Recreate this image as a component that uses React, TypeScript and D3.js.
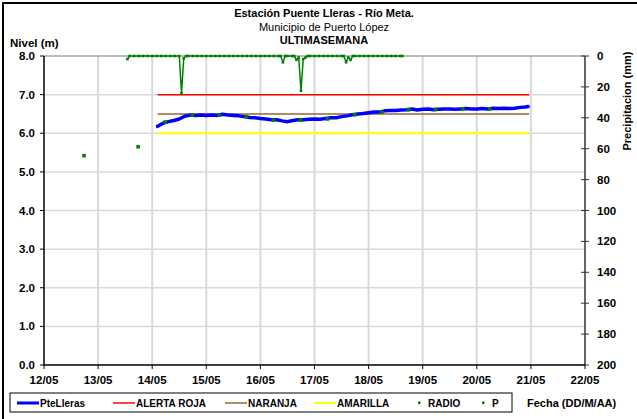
import React from "react";
import * as d3 from "d3";

// Days since 12/05 00:00
const X_TICK_LABELS = ["12/05", "13/05", "14/05", "15/05", "16/05", "17/05", "18/05", "19/05", "20/05", "21/05", "22/05"];
const LEVEL_TICKS = [0, 1, 2, 3, 4, 5, 6, 7, 8];
const PRECIP_TICKS = [0, 20, 40, 60, 80, 100, 120, 140, 160, 180, 200];

const LEVEL_DAYS = [2.1, 2.2, 2.3, 2.4, 2.5, 2.6, 2.7, 2.8, 2.9, 3.0, 3.1, 3.2, 3.3, 3.4, 3.5, 3.6, 3.7, 3.8, 3.9, 4.0, 4.1, 4.2, 4.3, 4.4, 4.5, 4.6, 4.7, 4.8, 4.9, 5.0, 5.1, 5.2, 5.3, 5.4, 5.5, 5.6, 5.7, 5.8, 5.9, 6.0, 6.1, 6.2, 6.3, 6.4, 6.5, 6.6, 6.7, 6.8, 6.9, 7.0, 7.1, 7.2, 7.3, 7.4, 7.5, 7.6, 7.7, 7.8, 7.9, 8.0, 8.1, 8.2, 8.3, 8.4, 8.5, 8.6, 8.7, 8.8, 8.9, 8.95];
const LEVEL_VALUES = [6.18, 6.26, 6.3, 6.33, 6.37, 6.44, 6.47, 6.46, 6.47, 6.46, 6.47, 6.46, 6.49, 6.47, 6.46, 6.45, 6.43, 6.41, 6.4, 6.38, 6.37, 6.35, 6.35, 6.32, 6.3, 6.33, 6.35, 6.35, 6.36, 6.37, 6.36, 6.38, 6.4, 6.4, 6.43, 6.45, 6.48, 6.5, 6.51, 6.53, 6.55, 6.55, 6.58, 6.59, 6.59, 6.6, 6.61, 6.63, 6.6, 6.62, 6.63, 6.61, 6.62, 6.63, 6.63, 6.62, 6.63, 6.64, 6.63, 6.63, 6.64, 6.63, 6.65, 6.64, 6.65, 6.64, 6.65, 6.67, 6.68, 6.69];

const RADIO_DAYS = [0.74, 1.74, 2.24, 2.74, 3.24, 3.74, 4.24, 4.74, 5.24, 5.74, 6.24, 6.74, 7.24, 7.74, 8.24];
const RADIO_VALUES = [5.42, 5.65, 6.29, 6.47, 6.47, 6.43, 6.34, 6.34, 6.37, 6.48, 6.55, 6.61, 6.62, 6.63, 6.63];

const ALERT_START = 2.1;
const ALERT_END = 8.97;
const ALERTA_ROJA = 7.0;
const NARANJA = 6.5;
const AMARILLA = 6.0;

const P_HOURS = [37, 38, 40, 42, 44, 46, 48, 50, 52, 54, 56, 58, 60, 61, 62, 63, 64, 66, 68, 70, 72, 74, 76, 78, 80, 82, 84, 86, 88, 90, 92, 94, 96, 98, 100, 102, 104, 105, 106, 107, 108, 110, 111, 112, 113, 114, 115, 116, 117, 118, 120, 122, 124, 126, 128, 130, 132, 133, 134, 135, 136, 137, 138, 140, 142, 144, 146, 148, 150, 152, 154, 156, 158, 159];
const P_VALUES = [2, 0, 0, 0, 0, 0, 0, 0, 0, 0, 0, 0, 0, 24, 1.5, 0, 0, 0, 0, 0, 0, 0, 0, 0, 0, 0, 0, 0, 0, 0, 0, 0, 0, 0, 0, 0, 0, 0, 4, 0, 0, 0, 0, 2.5, 1, 22.5, 2, 1, 0, 0, 0, 0, 0, 0, 0, 0, 0, 0, 4, 1, 2.5, 0, 0, 0, 0, 0, 0, 0, 0, 0, 0, 0, 0, 0];

const W = 637;
const H = 419;
const M = { left: 44, right: 585, top: 56, bottom: 365 };

const FONT = "'Liberation Sans', Arial, sans-serif";
const GREEN = "#008000";

export default function App() {
  const x = d3.scaleLinear().domain([0, 10]).range([M.left, M.right]);
  const y = d3.scaleLinear().domain([0, 8]).range([M.bottom, M.top]);
  const yp = d3.scaleLinear().domain([0, 200]).range([M.top, M.bottom]);

  const levelLine = d3
    .line<number>()
    .x((_, i) => x(LEVEL_DAYS[i]))
    .y((d) => y(d))
    .curve(d3.curveLinear);
  const pLine = d3
    .line<number>()
    .x((_, i) => x(P_HOURS[i] / 24))
    .y((d) => yp(d));

  const legendItems = [
    { label: "PteLleras", color: "#0000ff", type: "line", x: 17, w: 3 },
    { label: "ALERTA ROJA", color: "#ff0000", type: "line", x: 113, w: 1.5 },
    { label: "NARANJA", color: "#996633", type: "line", x: 225, w: 1.5 },
    { label: "AMARILLA", color: "#ffff00", type: "line", x: 314, w: 2 },
    { label: "RADIO", color: GREEN, type: "dot", x: 412, w: 0 },
    { label: "P", color: GREEN, type: "dot", x: 476, w: 0 },
  ];

  return (
    <div style={{ position: "absolute", left: 0, top: 0 }}>
      <svg width={W} height={H} style={{ display: "block", background: "#fff" }}>
        <rect x={0} y={0} width={W} height={H} fill="#fff" />
        {/* outer border */}
        <rect x={3} y={3} width={W + 20} height={H + 20} fill="none" stroke="#000" strokeWidth={2} />

        {/* titles */}
        <text x={324} y={17} textAnchor="middle" fontFamily={FONT} fontSize={11} fontWeight="bold">
          Estación Puente Lleras - Río Meta.
        </text>
        <text x={324} y={31} textAnchor="middle" fontFamily={FONT} fontSize={11}>
          Municipio de Puerto López
        </text>
        <text x={324} y={44} textAnchor="middle" fontFamily={FONT} fontSize={11} fontWeight="bold">
          ULTIMASEMANA
        </text>
        <text x={10} y={47} fontFamily={FONT} fontSize={11.5} fontWeight="bold">
          Nivel (m)
        </text>

        {/* grid */}
        {X_TICK_LABELS.map((_, i) =>
          i > 0 && i < 10 ? (
            <line key={"vg" + i} x1={x(i)} x2={x(i)} y1={M.top} y2={M.bottom} stroke="#d9d9d9" strokeWidth={2} />
          ) : null
        )}
        {LEVEL_TICKS.map((t) =>
          t > 0 && t < 8 ? (
            <line key={"hg" + t} x1={M.left} x2={M.right} y1={y(t)} y2={y(t)} stroke="#d9d9d9" strokeWidth={1.5} />
          ) : null
        )}
        <line x1={M.left} x2={M.right} y1={y(8)} y2={y(8)} stroke="#a6a6a6" strokeWidth={1.5} />

        {/* axes */}
        <line x1={M.left} x2={M.left} y1={M.top} y2={M.bottom} stroke="#000" strokeWidth={1.5} />
        <line x1={M.right} x2={M.right} y1={M.top} y2={M.bottom} stroke="#333" strokeWidth={1.5} />
        <line x1={M.left} x2={M.right} y1={M.bottom} y2={M.bottom} stroke="#000" strokeWidth={1.5} />

        {LEVEL_TICKS.map((t) => (
          <g key={"lt" + t}>
            <line x1={M.left - 4} x2={M.left} y1={y(t)} y2={y(t)} stroke="#000" strokeWidth={1} />
            <text x={35} y={y(t) + 4} textAnchor="end" fontFamily={FONT} fontSize={11.5} fontWeight="bold">
              {t.toFixed(1)}
            </text>
          </g>
        ))}
        {PRECIP_TICKS.map((t) => (
          <g key={"pt" + t}>
            <line x1={M.right - 4} x2={M.right + 4} y1={yp(t)} y2={yp(t)} stroke="#333" strokeWidth={1} />
            <text x={597} y={yp(t) + 4} textAnchor="start" fontFamily={FONT} fontSize={11.5} fontWeight="bold">
              {t}
            </text>
          </g>
        ))}
        {X_TICK_LABELS.map((lab, i) => (
          <g key={"xt" + i}>
            <line x1={x(i)} x2={x(i)} y1={M.bottom} y2={M.bottom + 4} stroke="#000" strokeWidth={1} />
            <text x={x(i)} y={384} textAnchor="middle" fontFamily={FONT} fontSize={11.5} fontWeight="bold">
              {lab}
            </text>
          </g>
        ))}
        <text
          transform={`translate(631,101) rotate(-90)`}
          textAnchor="middle"
          fontFamily={FONT}
          fontSize={11}
          fontWeight="bold"
        >
          Precipitacion (mm)
        </text>

        {/* thresholds */}
        <line x1={x(ALERT_START)} x2={x(ALERT_END)} y1={y(ALERTA_ROJA)} y2={y(ALERTA_ROJA)} stroke="#ff0000" strokeWidth={1.5} />
        <line x1={x(ALERT_START)} x2={x(ALERT_END)} y1={y(NARANJA)} y2={y(NARANJA)} stroke="#996633" strokeWidth={1.5} />
        <line x1={x(ALERT_START)} x2={x(ALERT_END)} y1={y(AMARILLA)} y2={y(AMARILLA)} stroke="#ffff00" strokeWidth={2} />

        {/* precipitation */}
        <path d={pLine(P_VALUES) || ""} fill="none" stroke={GREEN} strokeWidth={1.5} />
        {P_VALUES.map((v, i) => (
          <rect key={"pp" + i} x={x(P_HOURS[i] / 24) - 1.3} y={yp(v) - 1.3} width={2.6} height={2.6} fill={GREEN} />
        ))}

        {/* level */}
        <path d={levelLine(LEVEL_VALUES) || ""} fill="none" stroke="#0000ff" strokeWidth={3.5} strokeLinejoin="round" strokeLinecap="round" />
        {RADIO_VALUES.map((v, i) => (
          <rect key={"r" + i} x={x(RADIO_DAYS[i]) - 1.8} y={y(v) - 1.8} width={3.6} height={3.6} fill={GREEN} />
        ))}

        {/* legend */}
        <rect x={10} y={393} width={502} height={19} fill="#fff" stroke="#000" strokeWidth={1} />
        {legendItems.map((it) => (
          <g key={it.label}>
            {it.type === "line" ? (
              <line x1={it.x} x2={it.x + 22} y1={403} y2={403} stroke={it.color} strokeWidth={it.w} />
            ) : (
              <rect x={it.x + 6} y={401.5} width={2.5} height={2.5} fill={it.color} />
            )}
            <text
              x={it.type === "line" ? it.x + 23 : it.x + 16}
              y={406.5}
              fontFamily={FONT}
              fontSize={10}
              fontWeight="bold"
            >
              {it.label}
            </text>
          </g>
        ))}
        <text x={527} y={407} fontFamily={FONT} fontSize={11} fontWeight="bold">
          Fecha (DD/M/AA)
        </text>
      </svg>
    </div>
  );
}
